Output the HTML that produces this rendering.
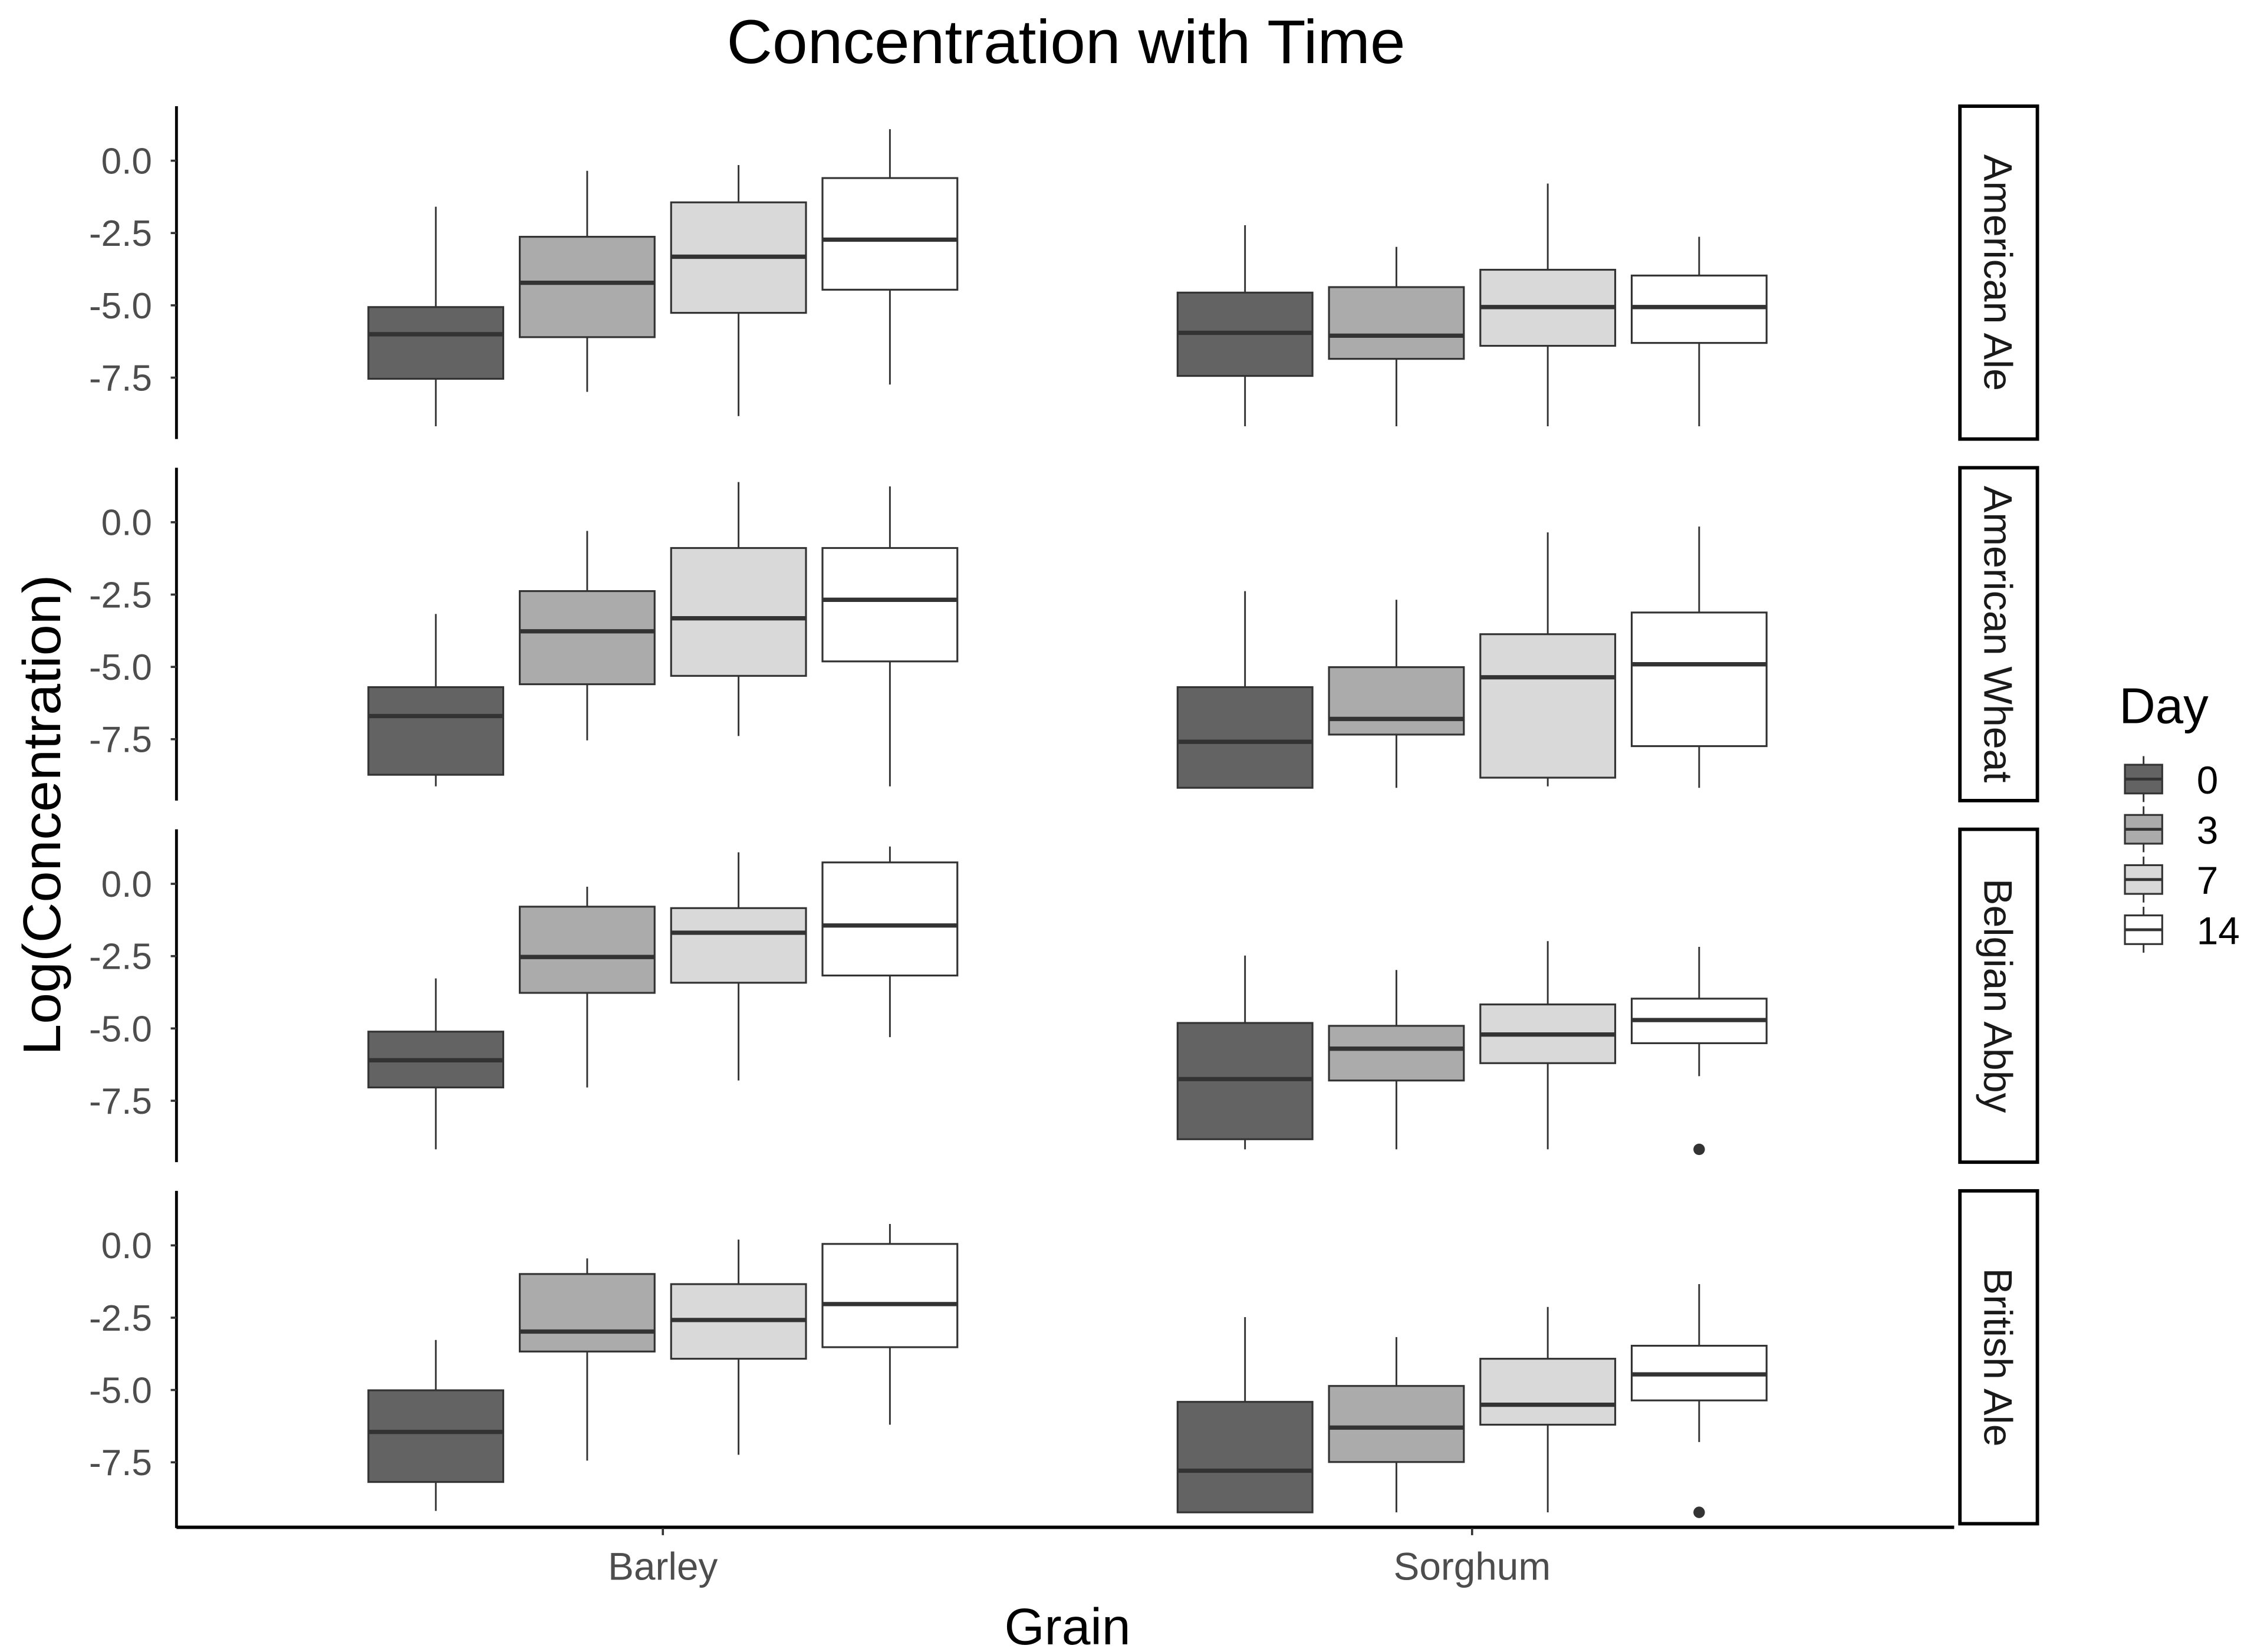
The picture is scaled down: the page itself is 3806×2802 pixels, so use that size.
<!DOCTYPE html>
<html><head><meta charset="utf-8"><style>
html,body{margin:0;padding:0;background:#fff;}
svg{display:block;font-family:"Liberation Sans",sans-serif;}
</style></head><body>
<svg id="chart" width="3806" height="2802" viewBox="0 0 1564 1151.4" xmlns="http://www.w3.org/2000/svg">
<rect width="1564" height="1151.4" fill="#fff"/>
<text x="743" y="44" font-size="43" text-anchor="middle" fill="#000" textLength="473" lengthAdjust="spacingAndGlyphs">Concentration with Time</text>
<text transform="translate(42,568) rotate(-90)" font-size="37" text-anchor="middle" fill="#000" textLength="335" lengthAdjust="spacingAndGlyphs">Log(Concentration)</text>
<text x="744" y="1146" font-size="36" text-anchor="middle" fill="#000" textLength="88" lengthAdjust="spacingAndGlyphs">Grain</text>
<g id="panels"></g>
<g id="legend"></g>
</svg>
<script>
const facets = ["American Ale","American Wheat","Belgian Abby","British Ale"];
const grains = ["Barley","Sorghum"];
const days = ["0","3","7","14"];
const yTicks = [0,-2.5,-5,-7.5];
const yTickLabels = ["0.0","-2.5","-5.0","-7.5"];
// each box: [lowerWhisker, q1, median, q3, upperWhisker], order: facet -> grain -> day
const boxStats = [
 [[[-9.18,-7.54,-6.0,-5.06,-1.59],[-7.99,-6.1,-4.22,-2.63,-0.35],[-8.83,-5.26,-3.32,-1.44,-0.15],[-7.74,-4.46,-2.73,-0.6,1.09]],
  [[-9.18,-7.44,-5.95,-4.56,-2.23],[-9.18,-6.85,-6.05,-4.37,-2.98],[-9.18,-6.4,-5.06,-3.77,-0.79],[-9.18,-6.3,-5.06,-3.97,-2.63]]],
 [[[-9.13,-8.73,-6.7,-5.7,-3.17],[-7.54,-5.6,-3.77,-2.38,-0.3],[-7.39,-5.31,-3.32,-0.89,1.39],[-9.13,-4.81,-2.68,-0.89,1.24]],
  [[-9.18,-9.18,-7.59,-5.7,-2.38],[-9.18,-7.34,-6.8,-5.01,-2.68],[-9.13,-8.83,-5.36,-3.87,-0.35],[-9.18,-7.74,-4.91,-3.12,-0.15]]],
 [[[-9.18,-7.04,-6.1,-5.11,-3.27],[-7.04,-3.77,-2.53,-0.79,-0.1],[-6.8,-3.42,-1.69,-0.84,1.09],[-5.3,-3.17,-1.44,0.74,1.29]],
  [[-9.18,-8.83,-6.75,-4.81,-2.48],[-9.18,-6.8,-5.7,-4.91,-2.98],[-9.18,-6.2,-5.21,-4.17,-1.98],[-6.65,-5.51,-4.71,-3.97,-2.18]]],
 [[[-9.18,-8.18,-6.45,-5.01,-3.27],[-7.44,-3.67,-2.98,-0.99,-0.45],[-7.24,-3.92,-2.58,-1.34,0.2],[-6.2,-3.52,-2.03,0.05,0.74]],
  [[-9.23,-9.23,-7.79,-5.41,-2.48],[-9.23,-7.49,-6.3,-4.86,-3.17],[-9.23,-6.2,-5.51,-3.92,-2.13],[-6.8,-5.36,-4.46,-3.47,-1.34]]]
];
// outliers: [facetIndex, grainIndex, dayIndex, value]
const outliers = [[2,1,3,-9.18],[3,1,3,-9.23]];
const fills = ["#636363","#ababab","#d9d9d9","#ffffff"];

const NS="http://www.w3.org/2000/svg";
const panelsG=document.getElementById('panels');
const X0=123,X1=1362,panelTop=74,panelH=232,panelStep=252;
const grainX=[462,1026], dodge=105.5, boxW=94;
const pxPerUnit=20.16, zeroOffset=38;
function yScale(p,v){return panelTop+p*panelStep+zeroOffset-v*pxPerUnit;}
function xScale(g,d){return grainX[g]+(d-1.5)*dodge;}
function mk(tag,attrs,parent){const e=document.createElementNS(NS,tag);for(const k in attrs)e.setAttribute(k,attrs[k]);parent.appendChild(e);return e;}

facets.forEach((f,p)=>{
  const g=mk('g',{},panelsG);
  
  
  const top=panelTop+p*panelStep;
  const ax=mk('line',{x1:X0,x2:X0,y1:top,y2:top+panelH+(p==3?3:0),stroke:'#000','stroke-width':2},g);
  
  
  yTicks.forEach((t,i)=>{
    const y=yScale(p,t);
    const tk=mk('line',{x1:X0-4,x2:X0,y1:y,y2:y,stroke:'#333','stroke-width':1.5},g);
    
    
    const tl=mk('text',{x:X0-17,y:y+9,'font-size':25.5,'text-anchor':'end',fill:'#4d4d4d'},g);
    tl.textContent=yTickLabels[i];
    
    
  });
  grains.forEach((gr,gi)=>{
    days.forEach((d,di)=>{
      const s=boxStats[p][gi][di];
      const cx=xScale(gi,di);
      const bg=mk('g',{},g);
      
      
      mk('line',{x1:cx,x2:cx,y1:yScale(p,s[4]),y2:yScale(p,s[3]),stroke:'#333','stroke-width':1.2},bg);
      mk('line',{x1:cx,x2:cx,y1:yScale(p,s[1]),y2:yScale(p,s[0]),stroke:'#333','stroke-width':1.2},bg);
      mk('rect',{x:cx-boxW/2,y:yScale(p,s[3]),width:boxW,height:yScale(p,s[1])-yScale(p,s[3]),fill:fills[di],stroke:'#333','stroke-width':1.3},bg);
      mk('line',{x1:cx-boxW/2,x2:cx+boxW/2,y1:yScale(p,s[2]),y2:yScale(p,s[2]),stroke:'#333','stroke-width':3},bg);
    });
  });
  outliers.filter(o=>o[0]===p).forEach(o=>{
    const c=mk('circle',{cx:xScale(o[1],o[2]),cy:yScale(p,o[3]),r:4,fill:'#333'},g);
    
    
  });
  const st=mk('rect',{x:1366,y:top,width:54,height:panelH,fill:'#fff',stroke:'#000','stroke-width':2.4},g);
  
  
  const sl=mk('text',{transform:`translate(1383,${top+panelH/2}) rotate(90)`,'font-size':28,'text-anchor':'middle',fill:'#1a1a1a'},g);
  sl.textContent=f;
  
  
});
const xa=mk('line',{x1:X0,x2:X1,y1:1064.5,y2:1064.5,stroke:'#000','stroke-width':2.4},panelsG);


grains.forEach((gr,gi)=>{
  const tk=mk('line',{x1:grainX[gi],x2:grainX[gi],y1:1065,y2:1070,stroke:'#333','stroke-width':1.5},panelsG);
  
  
  const t=mk('text',{x:grainX[gi],y:1101,'font-size':27,'text-anchor':'middle',fill:'#4d4d4d'},panelsG);
  t.textContent=gr;
  
  
});
const lg=document.getElementById('legend');
const lt=mk('text',{x:1477,y:504,'font-size':35,fill:'#000'},lg);
lt.textContent='Day';


days.forEach((d,i)=>{
  const cy=543+i*35;
  const e=mk('g',{},lg);
  
  
  mk('line',{x1:1494,x2:1494,y1:cy-16,y2:cy+16,stroke:'#333','stroke-width':1.2},e);
  mk('rect',{x:1481,y:cy-10,width:26,height:20,fill:fills[i],stroke:'#333','stroke-width':1.3},e);
  mk('line',{x1:1481,x2:1507,y1:cy,y2:cy,stroke:'#333','stroke-width':2},e);
  const t=mk('text',{x:1531,y:cy+10,'font-size':27,fill:'#000'},e);
  t.textContent=d;
});
</script>
</body></html>
